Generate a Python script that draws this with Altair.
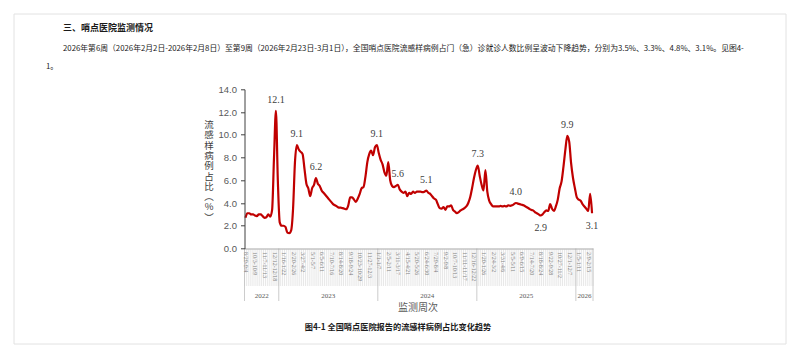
import altair as alt
import pandas as pd

# ---------------- data ----------------
values = [
    2.7, 3.1, 3.1, 3.0, 3.0, 2.9, 2.85, 3.0, 3.0, 2.85,
    2.7, 2.75, 3.0, 2.8, 3.4, 8.0, 12.1, 6.0, 2.3, 2.0,
    2.0, 1.9, 1.4, 1.35, 1.6, 3.5, 7.6, 9.1, 8.7, 8.5,
    8.3, 7.0, 5.7, 5.3, 4.6, 5.3, 5.6, 6.2, 5.7, 5.5,
    5.1, 4.9, 4.7, 4.5, 4.3, 4.1, 3.9, 3.8, 3.7, 3.6,
    3.6, 3.55, 3.5, 3.45, 3.8, 4.5, 4.5, 4.3, 4.1, 4.4,
    4.8, 5.3, 5.4, 6.3, 7.6, 8.3, 8.6, 8.2, 8.9, 9.1,
    8.4, 7.8, 7.4, 6.7, 6.4, 7.6, 6.0, 5.5, 5.4, 5.5,
    5.6, 5.2, 5.0, 4.9, 5.0, 4.6, 4.9, 4.8, 5.0, 4.9,
    5.0, 5.0, 5.0, 4.95, 5.0, 5.1, 4.9, 4.8, 4.6, 4.4,
    4.3, 3.9, 3.55, 3.5, 3.65, 3.4, 3.7, 3.7, 3.8, 3.4,
    3.25, 3.1, 3.2, 3.35, 3.45, 3.55, 3.7, 4.0, 4.5, 5.3,
    6.2, 6.9, 7.3, 6.4, 5.6, 5.1, 6.9, 5.0, 4.2, 3.9,
    3.7, 3.7, 3.7, 3.7, 3.75, 3.7, 3.75, 3.7, 3.8, 3.75,
    3.8, 3.9, 4.0, 3.95, 3.9, 3.85, 3.8, 3.7, 3.6, 3.5,
    3.4, 3.35, 3.2, 3.1, 3.0, 2.9, 3.0, 3.2, 3.35, 3.3,
    3.9, 3.5, 3.3, 3.7, 4.3, 5.3, 5.9, 7.2, 8.7, 9.9,
    9.4, 7.5, 6.2, 5.3, 4.5, 4.3, 4.2, 3.9, 3.7, 3.5,
    3.3, 4.8, 3.1,
]

x_labels = [
    "8/29-9/4", "10/3-10/9", "11/7-11/13", "12/12-12/18", "1/16-1/22",
    "2/20-2/26", "3/27-4/2", "5/1-5/7", "6/5-6/11", "7/10-7/16",
    "8/14-8/20", "9/18-9/24", "10/23-10/29", "11/27-12/3", "1/1-1/7",
    "2/5-2/11", "3/11-3/17", "4/15-4/21", "5/20-5/26", "6/24-6/30",
    "7/29-8/4", "9/2-9/8", "10/7-10/13", "11/11-11/17", "12/16-12/22",
    "1/20-1/26", "2/24-3/2", "3/31-4/6", "5/5-5/11", "6/9-6/15",
    "7/14-7/20", "8/18-8/24", "9/22-9/28", "10/27-11/2", "12/1-12/7",
    "1/5-1/11", "2/9-2/15",
]
label_step = 5

years = ["2022", "2023", "2024", "2025", "2026"]
year_first_week = [0, 18, 70, 122, 174]

peak_index = [16, 27, 37, 69, 80, 95, 122, 142, 155, 169, 182]
peak_side = ["above", "above", "above", "above", "above", "above",
             "above", "above", "below", "above", "below"]

y_ticks = [0, 2, 4, 6, 8, 10, 12, 14]

header = "三、哨点医院监测情况"
para1 = ("2026年第6周（2026年2月2日-2026年2月8日）至第9周（2026年2月23日-3月1日），"
         "全国哨点医院流感样病例占门（急）诊就诊人数比例呈波动下降趋势，"
         "分别为3.5%、3.3%、4.8%、3.1%。见图4-")
para2 = "1。"
caption = "图4-1  全国哨点医院报告的流感样病例占比变化趋势"
x_title = "监测周次"
y_title = ["流", "感", "样", "病", "例", "占", "比", "︵", "%", "︶"]

# ---------------- tables ----------------
n = len(values)
df = pd.DataFrame({"i": list(range(n)), "v": values})
peaks = pd.DataFrame({
    "i": peak_index,
    "v": [values[k] for k in peak_index],
    "t": [f"{values[k]:.1f}" for k in peak_index],
    "side": peak_side,
})
bounds = pd.DataFrame({"b": [k - 0.5 for k in range(n + 1)]})
yb = year_first_week + [n]
year_edges = pd.DataFrame({"b": [k - 0.5 for k in yb]})
year_df = pd.DataFrame({
    "year": years,
    "c": [(yb[k] - 0.5 + yb[k + 1] - 0.5) / 2 for k in range(len(years))],
})
one = pd.DataFrame({"a": [0]})

# ---------------- layout ----------------
W, H = 348.5, 159.2
PL, PT = 236.5, 81.3
PR = 784 - PL - W
PB = 343 - PT - H

def rx(page_x):
    return page_x - 8 - PL

def ry(page_y):
    return page_y - 8 - PT

CJK = "Noto Sans CJK SC"
SERIF = "Liberation Serif"

labels_js = "[" + ",".join("'" + s + "'" for s in x_labels) + "]"
x_axis = alt.Axis(
    values=[k * label_step for k in range(len(x_labels))],
    labelExpr=f"{labels_js}[round(datum.value/{label_step})]",
    labelAngle=90, labelAlign="left", labelBaseline="middle",
    labelFont=SERIF, labelFontSize=6, labelColor="#7f7f7f",
    labelPadding=3, labelOverlap=False, ticks=False, grid=False,
    domainColor="#a6a6a6", domainWidth=1, title=None, zindex=2,
)
y_axis = alt.Axis(
    values=y_ticks, format=".1f", labelFont="Liberation Sans",
    labelFontSize=9.5, labelColor="#595959", labelPadding=4,
    tickSize=4, tickColor="#404040", domainColor="#404040",
    grid=False, title=None, zindex=2,
)
xs = alt.Scale(domain=[-0.5, n - 0.5], nice=False, zero=False)
ys = alt.Scale(domain=[0, 14], nice=False)

X = lambda f: alt.X(f, scale=xs, axis=x_axis)
Y = lambda f: alt.Y(f, scale=ys, axis=y_axis)

card = alt.Chart(one).mark_rect(fill="white", stroke="#e2e2e2", strokeWidth=1).encode(
    x=alt.value(rx(14)), x2=alt.value(rx(786)),
    y=alt.value(ry(14)), y2=alt.value(ry(344)),
)

sep = alt.Chart(bounds).mark_rule(color="#d9d9d9", strokeWidth=0.6).encode(
    x=X("b:Q"), y=alt.value(H + 1), y2=alt.value(ry(286)),
)
ysep = alt.Chart(year_edges).mark_rule(color="#bfbfbf", strokeWidth=0.8).encode(
    x=X("b:Q"), y=alt.value(H), y2=alt.value(ry(301)),
)
ylab = alt.Chart(year_df).mark_text(
    font=SERIF, fontSize=7, color="#595959", baseline="middle"
).encode(x=X("c:Q"), y=alt.value(ry(295.5)), text="year:N")

line = alt.Chart(df).mark_line(
    color="#C00000", strokeWidth=2.2, interpolate="monotone"
).encode(x=X("i:Q"), y=Y("v:Q"))

above = alt.Chart(peaks).transform_filter("datum.side == 'above'").mark_text(
    font=SERIF, fontSize=10, color="#404040", dy=-11, baseline="middle"
).encode(x=X("i:Q"), y=Y("v:Q"), text="t:N")
below = alt.Chart(peaks).transform_filter("datum.side == 'below'").mark_text(
    font=SERIF, fontSize=10, color="#404040", dy=12.5, baseline="middle"
).encode(x=X("i:Q"), y=Y("v:Q"), text="t:N")

def txt(s, px, py, size, weight="normal", align="left", color="#1a1a1a", font=CJK):
    return alt.Chart(one).mark_text(
        text=s, font=font, fontSize=size, fontWeight=weight, align=align,
        baseline="middle", color=color,
    ).encode(x=alt.value(rx(px)), y=alt.value(ry(py)))

t_header = txt(header, 63, 28, 9, weight="bold")
t_p1 = txt(para1, 63, 48.5, 7.8)
t_p2 = txt(para2, 46, 66.5, 7.8)
t_cap = txt(caption, 398, 327.5, 8.2, weight="bold", align="center")
t_xt = txt(x_title, 418, 308, 10, align="center", color="#595959")

ytitle_df = pd.DataFrame({
    "ch": y_title,
    "k": list(range(len(y_title))),
})
t_yt = alt.Chart(ytitle_df).transform_calculate(
    py=f"{ry(125)} + datum.k * 10.3"
).mark_text(
    font=CJK, fontSize=9.5, align="center", baseline="middle", color="#404040",
).encode(x=alt.value(rx(209)), y=alt.Y("py:Q", scale=None), text="ch:N")

chart = alt.layer(
    card, sep, ysep, ylab, line, above, below,
    t_header, t_p1, t_p2, t_cap, t_xt, t_yt,
).properties(
    width=W, height=H,
    padding={"left": PL, "top": PT, "right": PR, "bottom": PB},
    autosize=alt.AutoSizeParams(type="none"),
    background="white",
).configure_view(stroke=None)

chart.save("out.html", embed_options={"renderer": "svg", "actions": False})
